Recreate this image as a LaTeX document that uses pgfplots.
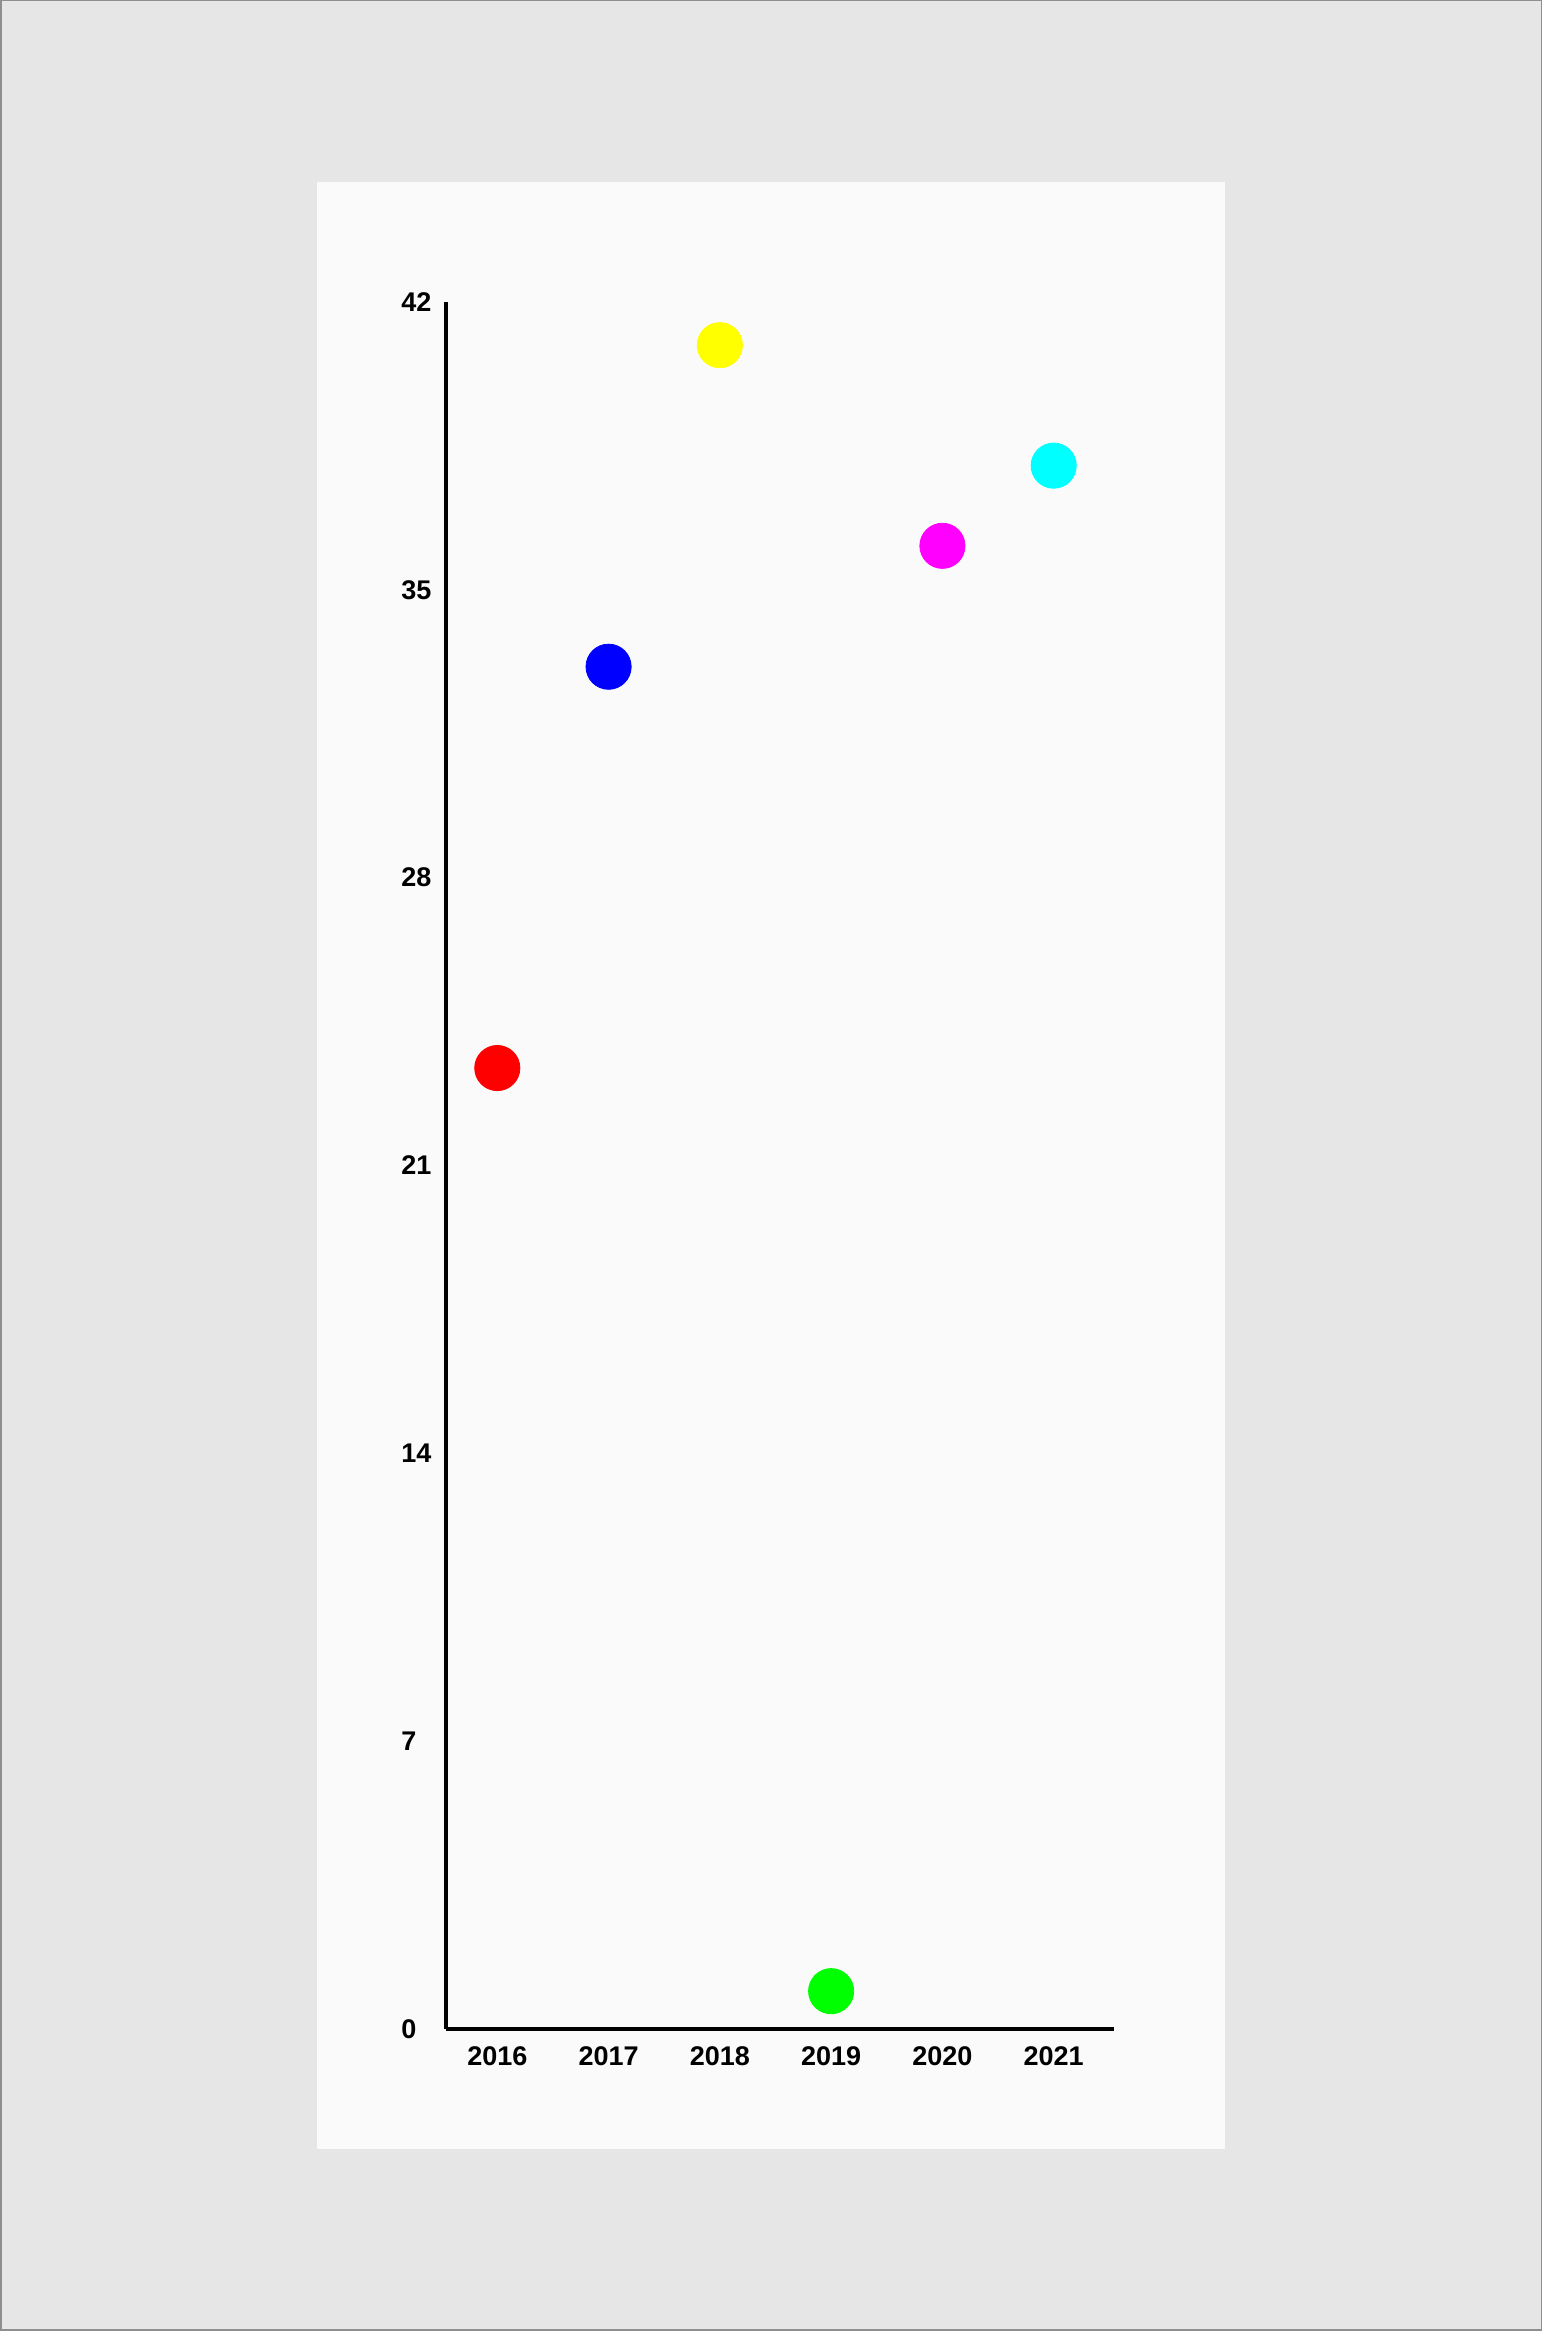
\documentclass[border=0pt]{standalone}
\usepackage{fontspec}
\setmainfont{Liberation Sans}
\usepackage{pgfplots}
\pgfplotsset{compat=1.18}
\definecolor{outerbg}{HTML}{E6E6E6}
\definecolor{panelbg}{HTML}{FAFAFA}
\definecolor{framec}{HTML}{8E8E8E}
\definecolor{cRed}{HTML}{FF0000}
\definecolor{cBlue}{HTML}{0000FF}
\definecolor{cYellow}{HTML}{FFFF00}
\definecolor{cGreen}{HTML}{00FF00}
\definecolor{cMagenta}{HTML}{FF00FF}
\definecolor{cCyan}{HTML}{00FFFF}
\begin{document}
\begin{tikzpicture}[x=0.5pt,y=0.5pt]
\useasboundingbox (0,0) rectangle (1542,2331);
\fill[framec] (0,0) rectangle (1542,2331);
\fill[outerbg] (1.5,1.5) rectangle (1540.5,2329.5);
\fill[panelbg] (317,182) rectangle (1225,2149);
\begin{axis}[
  at={(223pt,151pt)}, anchor=south west,
  scale only axis, width=334pt, height=863.5pt,
  xmin=-0.461, xmax=5.542, ymin=0, ymax=42,
  axis x line=bottom, axis y line=left,
  axis line style={-, line width=2pt, black},
  major tick length=0pt,
  xtick={0,1,2,3,4,5},
  xticklabels={2016,2017,2018,2019,2020,2021},
  ytick={0,7,14,21,28,35,42},
  tick label style={font=\fontsize{13.5}{16}\selectfont\bfseries, inner sep=0pt},
  /pgf/number format/assume math mode=true,
  xticklabel style={anchor=north, yshift=-8.85pt},
  yticklabel style={anchor=west, xshift=-22.5pt},
  clip=false,
]
\addplot[only marks, mark=*, mark size=11.3pt, color=cRed] coordinates {(0,23.37)};
\addplot[only marks, mark=*, mark size=11.3pt, color=cBlue] coordinates {(1,33.13)};
\addplot[only marks, mark=*, mark size=11.3pt, color=cYellow] coordinates {(2,40.95)};
\addplot[only marks, mark=*, mark size=11.3pt, color=cGreen] coordinates {(3,0.92)};
\addplot[only marks, mark=*, mark size=11.3pt, color=cMagenta] coordinates {(4,36.07)};
\addplot[only marks, mark=*, mark size=11.3pt, color=cCyan] coordinates {(5,38.02)};
\end{axis}
\end{tikzpicture}
\end{document}
